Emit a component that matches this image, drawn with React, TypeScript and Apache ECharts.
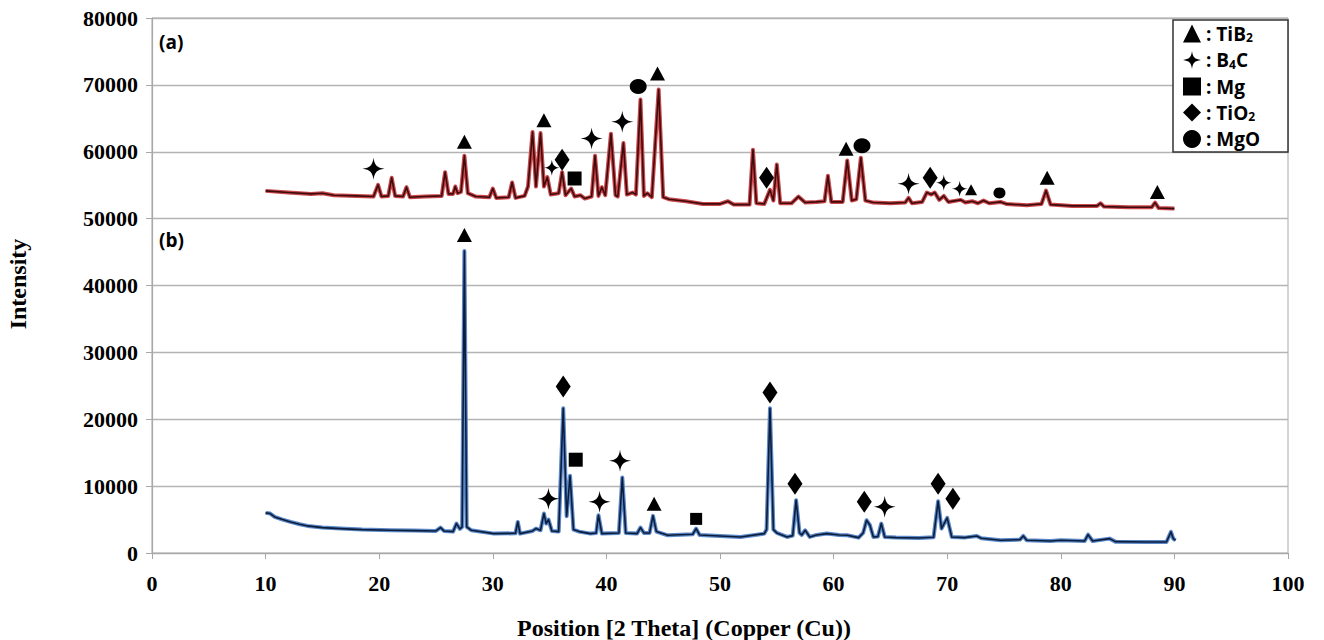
import React, { useEffect, useRef } from "react";
import * as echarts from "echarts";

// ---- data ----
const curveA: number[][] = [
  [10.0, 54150], [12.0, 53900], [14.0, 53700], [15.0, 53800], [16.0, 53500], [18.0, 53400],
  [19.5, 53300], [19.9, 55050], [20.2, 53300], [20.8, 53400], [21.1, 56100], [21.4, 53400],
  [22.1, 53300], [22.4, 54700], [22.7, 53200], [24.0, 53300], [25.5, 53400], [25.8, 56950],
  [26.1, 53700], [26.5, 53700], [26.7, 54800], [26.9, 53800], [27.2, 54000], [27.5, 59400],
  [27.8, 53800], [28.5, 53300], [29.7, 53200], [30.0, 54500], [30.3, 53100], [31.4, 53200],
  [31.7, 55400], [32.0, 53100], [32.8, 53400], [33.1, 54800], [33.5, 62950], [33.8, 54800],
  [34.2, 62800], [34.5, 54800], [34.8, 56200], [35.1, 53600], [35.8, 53800], [36.1, 56950],
  [36.4, 53500], [36.9, 54500], [37.2, 53300], [37.7, 53500], [38.1, 53000], [38.7, 53300],
  [39.0, 59400], [39.3, 53400], [39.6, 54700], [39.9, 53500], [40.4, 62700], [40.8, 53500],
  [41.0, 53300], [41.5, 61300], [41.8, 53600], [42.3, 53900], [42.6, 53600], [43.0, 67800],
  [43.3, 53400], [43.6, 53800], [44.0, 53200], [44.6, 69300], [45.0, 53200], [45.5, 52900],
  [47.0, 52600], [48.5, 52200], [50.0, 52200], [50.7, 52600], [51.2, 52100], [52.6, 52100],
  [52.9, 60300], [53.2, 52300], [53.9, 52200], [54.4, 54300], [54.7, 52700], [55.0, 58100],
  [55.3, 52300], [56.3, 52300], [56.9, 53300], [57.5, 52400], [58.5, 52500], [59.2, 52600],
  [59.5, 56400], [59.8, 52500], [60.8, 52500], [61.2, 58700], [61.6, 52700], [62.0, 52900],
  [62.4, 59100], [62.8, 52700], [63.5, 52400], [65.0, 52300], [66.3, 52400], [66.6, 53100],
  [66.9, 52300], [67.8, 52500], [68.2, 53900], [68.6, 53600], [68.9, 53900], [69.3, 52800],
  [69.7, 53400], [70.1, 52500], [71.2, 52800], [71.6, 52400], [72.2, 52600], [72.7, 52300],
  [73.2, 52700], [73.7, 52300], [74.7, 52500], [75.2, 52200], [77.0, 52000], [78.3, 52200],
  [78.7, 54200], [79.1, 52100], [81.0, 51900], [83.2, 51900], [83.5, 52300], [83.8, 51800],
  [86.0, 51700], [88.0, 51700], [88.3, 52400], [88.6, 51600], [90.0, 51500],
];

const curveB: number[][] = [
  [10.0, 6000], [10.4, 5900], [10.8, 5400], [11.5, 5000], [12.2, 4650], [13.0, 4300],
  [13.7, 4050], [15.0, 3800], [16.6, 3650], [18.5, 3500], [21.0, 3400], [23.0, 3350],
  [25.0, 3300], [25.4, 3800], [25.7, 3300], [26.5, 3200], [26.8, 4400], [27.1, 3600],
  [27.3, 3900], [27.5, 45150], [27.7, 3900], [28.1, 3400], [30.1, 2900], [32.0, 2950],
  [32.2, 4650], [32.4, 2900], [33.5, 3300], [33.8, 3650], [34.2, 3400], [34.5, 5900],
  [34.7, 4400], [34.9, 5000], [35.2, 3300], [35.8, 3200], [36.2, 21650], [36.5, 5500],
  [36.8, 11550], [37.1, 3500], [37.6, 3200], [38.6, 2900], [39.1, 3000], [39.3, 5650],
  [39.6, 2900], [41.1, 3000], [41.4, 11300], [41.7, 3000], [42.7, 2900], [43.0, 3800],
  [43.3, 3000], [43.8, 3000], [44.1, 5550], [44.4, 3200], [45.4, 2650], [47.6, 2800],
  [47.9, 3650], [48.2, 2700], [51.8, 2400], [53.9, 2900], [54.1, 3500], [54.4, 21650],
  [54.7, 3500], [55.0, 3000], [55.9, 2400], [56.4, 2600], [56.7, 7900], [57.0, 3000],
  [57.2, 2700], [57.5, 3400], [57.9, 2400], [58.5, 2700], [59.4, 2900], [60.5, 2700],
  [61.2, 2650], [62.2, 2300], [62.6, 3000], [62.9, 4900], [63.2, 4150], [63.5, 2400],
  [63.9, 2450], [64.2, 4400], [64.5, 2400], [65.5, 2300], [67.5, 2250], [68.8, 2350],
  [69.2, 7750], [69.5, 3650], [70.0, 5250], [70.4, 2400], [71.5, 2300], [72.6, 2550],
  [73.0, 2200], [74.7, 1900], [76.4, 2000], [76.7, 2550], [77.0, 1900], [79.1, 1800],
  [80.0, 1900], [82.1, 1800], [82.4, 2750], [82.8, 1800], [84.3, 2150], [84.8, 1700],
  [87.6, 1650], [89.3, 1650], [89.7, 3150], [89.9, 2150], [90.1, 1900],
];

// phase markers [2theta, intensity]
const tib2Marks: number[][] = [
  [27.5, 61500], [34.5, 64700], [44.5, 71700], [61.1, 60450], [78.8, 56100], [88.5, 54000],
  [27.5, 47550], [44.2, 7350],
];
const tib2Minor: number[][] = [[72.1, 54300]];
const b4cMarks: number[][] = [
  [19.5, 57450], [38.7, 62000], [41.4, 64500], [66.6, 55200],
  [34.9, 8100], [39.4, 7650], [41.2, 13800], [64.5, 6900],
];
const b4cMinor: number[][] = [[35.2, 57600], [69.7, 55350], [71.1, 54450]];
const mgMarks: number[][] = [[37.2, 56000], [37.3, 13950]];
const mgMinor: number[][] = [[47.9, 5100]];
const tio2Marks: number[][] = [
  [36.1, 58800], [54.1, 56100], [68.5, 56100],
  [36.2, 24900], [54.4, 24000], [56.6, 10350], [62.7, 7650], [69.2, 10350], [70.5, 8100],
];
const mgoMarks: number[][] = [[42.8, 69750], [62.5, 60900]];
const mgoMinor: number[][] = [[74.6, 53850]];

const phaseNames = ["TiB2", "B4C", "Mg", "TiO2", "MgO"];
const phaseLabels: Record<string, string> = {
  TiB2: ": TiB{s|2}",
  B4C: ": B{s|4}C",
  Mg: ": Mg",
  TiO2: ": TiO{s|2}",
  MgO: ": MgO",
};
const xTicks = { min: 0, max: 100, interval: 10 };
const yTicks = { min: 0, max: 80000, interval: 10000 };

const STAR = "path://M0,-10C1,-3 3,-1 10,0C3,1 1,3 0,10C-1,3 -3,1 -10,0C-3,-1 -1,-3 0,-10Z";
const SERIF = "Liberation Serif";
const SANS = "Open Sans";

function scatter(name: string, data: number[][], symbol: string, size: any) {
  return {
    type: "scatter",
    name,
    data,
    symbol,
    symbolSize: size,
    itemStyle: { color: "#000", opacity: 1 },
    z: 5,
    silent: true,
  };
}

function line(name: string, data: number[][], color: string, width: number, z: number) {
  return {
    type: "line",
    name,
    data,
    showSymbol: false,
    symbol: "none",
    lineStyle: { color, width, join: "round" },
    z,
    silent: true,
  };
}

export default function App() {
  const ref = useRef<HTMLDivElement>(null);
  useEffect(() => {
    if (!ref.current) return;
    const chart = echarts.init(ref.current, null, { renderer: "svg" });
    chart.setOption({
      animation: false,
      backgroundColor: "#fff",
      grid: {
        left: 152,
        right: 36,
        top: 18,
        bottom: 87,
        show: true,
        borderColor: "#a8a8a8",
        borderWidth: 1,
      },
      xAxis: {
        type: "value",
        ...xTicks,
        axisLine: { show: true, lineStyle: { color: "#a8a8a8", width: 1.2 } },
        axisTick: { show: true, length: 6, lineStyle: { color: "#a8a8a8" } },
        splitLine: { show: false },
        axisLabel: {
          color: "#000",
          fontFamily: SERIF,
          fontWeight: "bold",
          fontSize: 22,
          margin: 19,
          formatter: (v: number) => String(v),
        },
      },
      yAxis: {
        type: "value",
        ...yTicks,
        axisLine: { show: true, lineStyle: { color: "#a8a8a8", width: 1.2 } },
        axisTick: { show: true, length: 6, lineStyle: { color: "#a8a8a8" } },
        splitLine: { show: true, lineStyle: { color: "#b4b4b4", width: 1.3 } },
        axisLabel: {
          color: "#000",
          fontFamily: SERIF,
          fontWeight: "bold",
          fontSize: 22,
          margin: 14,
          formatter: (v: number) => String(v),
        },
      },
      legend: {
        data: phaseNames,
        orient: "vertical",
        left: 1178,
        top: 19,
        itemGap: 7,
        itemWidth: 18,
        itemHeight: 18,
        z: 6,
        formatter: (n: string) => phaseLabels[n],
        textStyle: {
          color: "#000",
          fontFamily: SANS,
          fontWeight: "bold",
          fontSize: 19,
          rich: {
            s: {
              fontFamily: SANS,
              fontWeight: "bold",
              fontSize: 12,
              verticalAlign: "bottom",
              padding: [8, 0, 0, 0],
            },
          },
        },
      },
      graphic: [
        {
          type: "rect",
          z: 3,
          shape: { x: 1173, y: 20, width: 115, height: 132 },
          style: { fill: "#fff", stroke: "#333", lineWidth: 1.5 },
        },
        {
          type: "text",
          z: 6,
          x: 159,
          y: 42,
          style: {
            text: "(a)",
            fill: "#000",
            font: `bold 19px ${SANS}`,
            textVerticalAlign: "middle",
          },
        },
        {
          type: "text",
          z: 6,
          x: 159,
          y: 240,
          style: {
            text: "(b)",
            fill: "#000",
            font: `bold 19px ${SANS}`,
            textVerticalAlign: "middle",
          },
        },
        {
          type: "text",
          z: 6,
          x: 18,
          y: 284,
          rotation: Math.PI / 2,
          style: {
            text: "Intensity",
            fill: "#000",
            font: `bold 24px ${SERIF}`,
            textAlign: "center",
            textVerticalAlign: "middle",
          },
        },
        {
          type: "text",
          z: 6,
          x: 684,
          y: 628,
          style: {
            text: "Position [2 Theta] (Copper (Cu))",
            fill: "#000",
            font: `bold 24px ${SERIF}`,
            textAlign: "center",
            textVerticalAlign: "middle",
          },
        },
      ],
      series: [
        line("a-glow", curveA, "#c9474b", 4, 2),
        line("a-core", curveA, "#3d0b0c", 1.6, 3),
        line("b-glow", curveB, "#5a88c8", 4, 2),
        line("b-core", curveB, "#0c1d3b", 1.6, 3),
        scatter("TiB2", tib2Marks, "triangle", [15, 14]),
        scatter("TiB2", tib2Minor, "triangle", [12, 11]),
        scatter("B4C", b4cMarks, STAR, 22),
        scatter("B4C", b4cMinor, STAR, 16),
        scatter("Mg", mgMarks, "rect", 14),
        scatter("Mg", mgMinor, "rect", 12),
        scatter("TiO2", tio2Marks, "diamond", [15, 22]),
        scatter("MgO", mgoMarks, "circle", [17, 15]),
        scatter("MgO", mgoMinor, "circle", [12, 11]),
      ],
    });
    return () => chart.dispose();
  }, []);
  return (
    <div
      ref={ref}
      style={{ position: "fixed", left: 0, top: 0, width: 1324, height: 640, background: "#fff" }}
    />
  );
}
